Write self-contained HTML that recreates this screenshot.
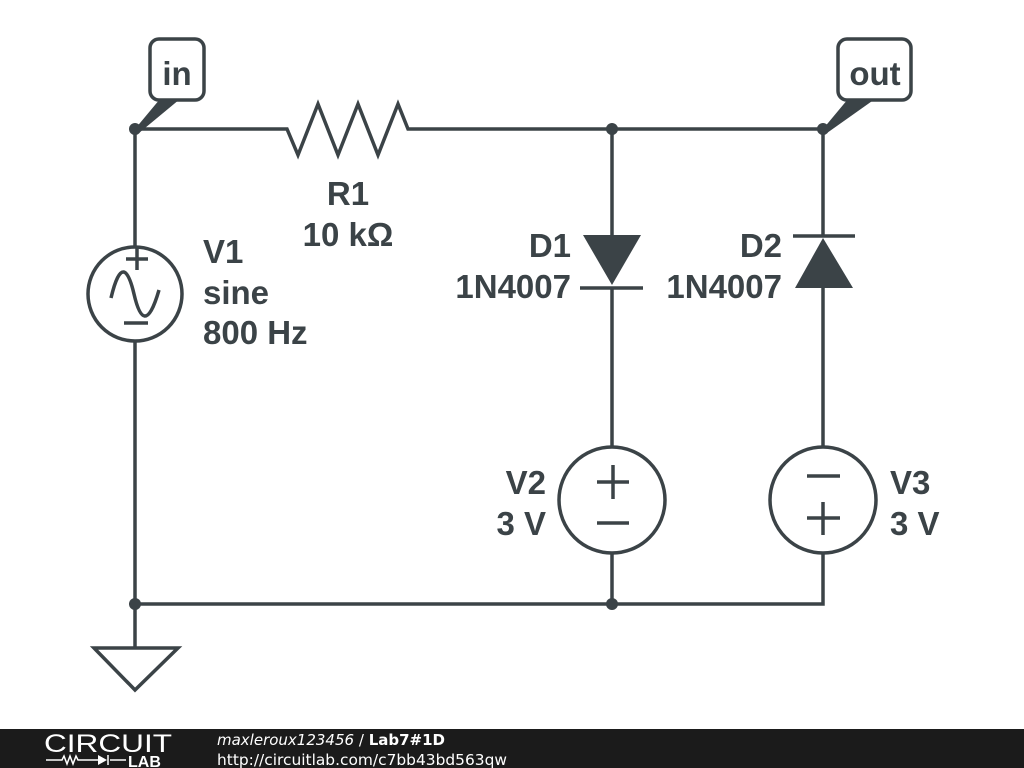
<!DOCTYPE html>
<html><head><meta charset="utf-8"><style>
html,body{margin:0;padding:0;background:#fff;width:1024px;height:768px;overflow:hidden}
svg{display:block}
</style></head><body>
<svg width="1024" height="768" viewBox="0 0 1024 768" xmlns="http://www.w3.org/2000/svg">
<g stroke="#3b4347" stroke-width="3.5" fill="none" stroke-linecap="butt" stroke-linejoin="miter">
<polyline points="135,129 287,129 298,155 318,104 338,155 358,104 378,155 398,104 408,129 823,129"/>
<line x1="135" y1="129" x2="135" y2="246"/>
<line x1="135" y1="341" x2="135" y2="648"/>
<circle cx="135" cy="294" r="47"/>
<line x1="137" y1="248" x2="137" y2="270"/><line x1="126" y1="259" x2="148" y2="259"/>
<line x1="124" y1="323" x2="148" y2="323"/>
<path d="M111,298 C120,260 128,268 134,294 C140,320 148,328 159,290"/>
<polygon points="94,648 178,648 135,690"/>
<polyline points="135,604 823,604 823,553"/>
<line x1="612" y1="129" x2="612" y2="236"/>
<line x1="612" y1="288" x2="612" y2="447"/>
<line x1="580" y1="288" x2="643" y2="288"/>
<circle cx="612" cy="500" r="53"/>
<line x1="597" y1="482" x2="629" y2="482"/><line x1="613" y1="465" x2="613" y2="499"/>
<line x1="597" y1="523" x2="629" y2="523"/>
<line x1="612" y1="553" x2="612" y2="604"/>
<line x1="823" y1="129" x2="823" y2="236"/>
<line x1="823" y1="288" x2="823" y2="447"/>
<line x1="793" y1="236" x2="855" y2="236"/>
<circle cx="823" cy="500" r="53"/>
<line x1="807" y1="476" x2="840" y2="476"/>
<line x1="807" y1="518" x2="840" y2="518"/><line x1="823" y1="502" x2="823" y2="535"/>
<rect x="150" y="39" width="54" height="61" rx="9"/>
<rect x="838" y="39" width="73" height="61" rx="9"/>
</g>
<g fill="#3b4347">
<polygon points="583,235 641,235 612,285"/>
<polygon points="823,238 853,288 795,288"/>
<polygon points="135,129 160,99 180,99 139,133"/>
<polygon points="823,129 848,99 875,99 827,133"/>
<circle cx="135" cy="129" r="6"/><circle cx="612" cy="129" r="6"/><circle cx="823" cy="129" r="6"/>
<circle cx="135" cy="604" r="6"/><circle cx="612" cy="604" r="6"/>
</g>
<g fill="#3b4347" font-family="Liberation Sans, sans-serif" font-weight="bold" font-size="33">
<text x="177" y="85" text-anchor="middle">in</text>
<text x="875" y="85" text-anchor="middle">out</text>
<text x="348" y="205" text-anchor="middle">R1</text>
<text x="348" y="246" text-anchor="middle">10 kΩ</text>
<text x="203" y="263">V1</text>
<text x="203" y="304">sine</text>
<text x="203" y="344">800 Hz</text>
<text x="571" y="257" text-anchor="end">D1</text>
<text x="571" y="298" text-anchor="end">1N4007</text>
<text x="782" y="257" text-anchor="end">D2</text>
<text x="782" y="298" text-anchor="end">1N4007</text>
<text x="546" y="494" text-anchor="end">V2</text>
<text x="546" y="535" text-anchor="end">3 V</text>
<text x="890" y="494">V3</text>
<text x="890" y="535">3 V</text>
</g>
<rect x="0" y="729" width="1024" height="39" fill="#1b1b1b"/>
<g fill="#fff" font-family="DejaVu Sans, sans-serif">
<text x="44" y="752" font-size="25" font-family="Liberation Sans, sans-serif" textLength="128" lengthAdjust="spacingAndGlyphs">CIRCUIT</text>
<text x="128" y="767" font-size="16" font-weight="bold" font-family="Liberation Sans, sans-serif">LAB</text>
<text x="217" y="745" font-size="15" font-style="italic">maxleroux123456 <tspan font-style="normal">/</tspan> <tspan font-style="normal" font-weight="bold">Lab7#1D</tspan></text>
<text x="217" y="765" font-size="15" textLength="290" lengthAdjust="spacingAndGlyphs">http://circuitlab.com/c7bb43bd563qw</text>
</g>
<g stroke="#fff" stroke-width="1.5" fill="none">
<polyline points="46,760 62,760 64,756 67,764 70,756 73,764 76,756 78,760 98,760"/>
<line x1="110" y1="760" x2="126" y2="760"/><line x1="108" y1="755" x2="108" y2="765"/>
</g>
<polygon points="98,755 98,765 107,760" fill="#fff"/>
</svg>
</body></html>
